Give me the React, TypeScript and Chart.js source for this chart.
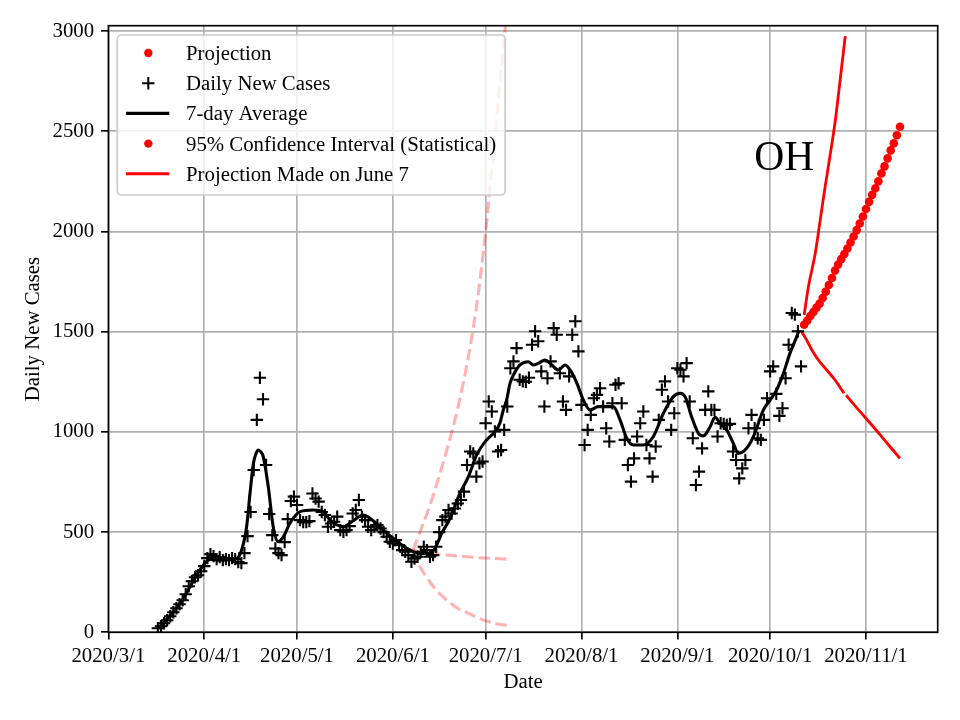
import React, { useEffect, useRef } from "react";
import { Chart, registerables } from "chart.js";

Chart.register(...registerables);

const FONT_FAMILY = "'Liberation Serif', 'Times New Roman', 'DejaVu Serif', serif";
const FONT_SIZE = 20.8;

// x axis: days since 2020-03-01
const X_MIN = 0;
const X_MAX = 268.2;
const Y_MIN = 0;
const Y_MAX = 3027;

const xTickDays = [0, 31, 61, 92, 122, 153, 184, 214, 245];
const xTickLabels = ["2020/3/1", "2020/4/1", "2020/5/1", "2020/6/1", "2020/7/1", "2020/8/1", "2020/9/1", "2020/10/1", "2020/11/1"];
const yTicks = [0, 500, 1000, 1500, 2000, 2500, 3000];
const yTickLabels = ["0", "500", "1000", "1500", "2000", "2500", "3000"];

// Daily new cases, one value per day starting at day 16 (2020-03-17)
const dailyStartDay = 16;
const dailyCases = [
  20, 30, 45, 60, 80, 100, 120, 140, 160, 190, 230, 255, 275, 285, 305, 330,
  370, 390, 380, 365, 375, 360, 365, 360, 370, 365, 350, 345, 395, 480, 600, 810,
  1060, 1270, 1163, 835, 590, 485, 418, 395, 385, 450, 565, 655, 677, 635, 560, 550,
  550, 555, 693, 668, 652, 600, 585, 527, 543, 552, 577, 510, 502, 510, 530, 593,
  610, 660, 577, 560, 527, 510, 527, 535, 518, 500, 477, 452, 443, 460, 435, 410,
  402, 385, 352, 368, 377, 400, 427, 410, 377, 385, 427, 500, 560, 577, 610, 593,
  618, 643, 660, 702, 835, 902, 893, 777, 843, 852, 1043, 1152, 1102, 1002, 902, 910,
  1010, 1127, 1318, 1352, 1418, 1260, 1252, 1250, 1270, 1435, 1502, 1452, 1302, 1127, 1268, 1352,
  1518, 1485, 1293, 1152, 1110, 1277, 1485, 1552, 1402, 1135, 935, 1010, 1085, 1168, 1185, 1218,
  1127, 1018, 952, 1143, 1235, 1243, 1143, 960, 835, 752, 868, 977, 1043, 1102, 935, 868,
  777, 927, 1060, 1210, 1252, 1152, 1010, 1093, 1318, 1310, 1277, 1343, 1152, 968, 735, 802,
  918, 1110, 1202, 1110, 1110, 977, 1043, 1040, 1035, 1040, 902, 860, 768, 818, 860, 1018,
  1085, 1018, 968, 960, 1060, 1168, 1302, 1327, 1190, 1080, 1118, 1268, 1435, 1593, 1585, 1502,
  1327,
];

// 7-day average
const avgDays = [
  16.1, 20, 23.2, 26.5, 29.6, 32.9, 36.1, 39, 41.5, 43.1, 44.7, 45.8, 46.9, 47.8, 48.5, 49.3,
  50.1, 51.7, 53.3, 54.9, 56.6, 58.7, 62, 66.3, 69.5, 71.7, 76, 79, 82.4, 84.6, 88.9, 92.1,
  96.5, 99.7, 102, 104, 105.6, 107.8, 110.5, 113.7, 116.4, 119.1, 122.3, 125, 126.6, 127.7, 128.8, 129.9,
  131, 133.1, 135.8, 137.4, 139, 141.2, 143.4, 145.5, 147.7, 149.3, 151.5, 153.6, 155.8, 158.4, 161.2, 163.3,
  165.5, 167.6, 169.8, 173, 176.2, 179.5, 182.7, 184.9, 186.5, 188.6, 190.8, 192.4, 194.6, 196.2, 197.8, 200,
  202.1, 203.7, 206.4, 208.6, 211.8, 214, 216.1, 218.3, 220.4, 222.6, 223.4,
];
const avgValues = [
  20, 85, 145, 230, 311, 364, 361, 363, 369, 411, 527, 694, 843, 895, 910, 900,
  876, 727, 527, 452, 477, 544, 602, 610, 602, 560, 527, 555, 585, 569, 510, 469,
  419, 397, 393, 394, 419, 494, 569, 694, 776, 885, 960, 1001, 1043, 1109, 1160, 1243,
  1284, 1334, 1350, 1334, 1342, 1359, 1334, 1309, 1334, 1309, 1243, 1159, 1109, 1126, 1126, 1126,
  1059, 970, 935, 935, 976, 1093, 1176, 1193, 1176, 1076, 993, 980, 1026, 1073, 1043, 1009,
  943, 893, 918, 976, 1109, 1159, 1209, 1292, 1392, 1475, 1508,
];

// Projection (red dots), one per day starting at day 225
const projStartDay = 225;
const projValues = [
  1535, 1555, 1578, 1598, 1620, 1640, 1668, 1700, 1733, 1768, 1805, 1835, 1862, 1888, 1915, 1945,
  1975, 2007, 2040, 2075, 2112, 2148, 2183, 2215, 2250, 2290, 2325, 2365, 2405, 2440, 2480, 2523,
];

// 95% confidence interval bounds
const ciUpperDays = [225, 226.4, 228.6, 230.2, 231.8, 233.5, 235.1, 236.4, 238.3];
const ciUpperValues = [1583, 1725, 1891, 2057, 2224, 2390, 2556, 2723, 2975];
const ciLowerDays = [224.2, 225.8, 227.5, 229.6, 232.3, 235, 237.2, 237.9, 238.2, 238.6, 239.9, 243.1, 246.4, 249.6, 252.8, 256];
const ciLowerValues = [1500, 1459, 1409, 1359, 1309, 1259, 1209, 1193, null, 1183, 1159, 1101, 1043, 985, 926, 868];

// Projection made on June 7 (light dashed)
const juneUpperDays = [98.5, 101, 104, 107, 110, 113, 116, 119, 122, 125, 128, 130];
const juneUpperValues = [410, 510, 635, 780, 940, 1120, 1340, 1620, 2000, 2480, 2960, 3300];
const juneMidDays = [98.5, 101, 105, 110, 115, 120, 125, 129.2];
const juneMidValues = [410, 400, 392, 385, 378, 372, 368, 365];
const juneLowDays = [98.5, 100, 102, 104, 106, 108, 110, 113, 116, 119, 122, 125, 129.5];
const juneLowValues = [410, 350, 295, 250, 212, 180, 153, 120, 98, 75, 58, 45, 32];

const STATE_LABEL = "OH";
const STATE_LABEL_DAY = 218.6;
const STATE_LABEL_VALUE = 2360;

const legendItems = [
  { label: "Projection", kind: "dot", color: "#ff0000" },
  { label: "Daily New Cases", kind: "plus", color: "#000000" },
  { label: "7-day Average", kind: "line", color: "#000000" },
  { label: "95% Confidence Interval (Statistical)", kind: "dot", color: "#ff0000" },
  { label: "Projection Made on June 7", kind: "line", color: "#ff0000" },
];

const pts = (xs: number[], ys: (number | null)[]) => xs.map((x, i) => ({ x, y: ys[i] }));

const mplPlugin = {
  id: "mplDecor",
  afterDraw(chart: any) {
    const { ctx, chartArea: a, scales } = chart;
    ctx.save();
    // state label
    ctx.fillStyle = "#000";
    ctx.font = `41.6px ${FONT_FAMILY}`;
    ctx.textAlign = "center";
    ctx.textBaseline = "middle";
    ctx.fillText(STATE_LABEL, scales.x.getPixelForValue(STATE_LABEL_DAY), scales.y.getPixelForValue(STATE_LABEL_VALUE));

    // spines
    ctx.strokeStyle = "#000";
    ctx.lineWidth = 1.67;
    ctx.strokeRect(a.left, a.top, a.right - a.left, a.bottom - a.top);

    // legend
    ctx.font = `${FONT_SIZE}px ${FONT_FAMILY}`;
    const textX = a.left + 77.6;
    const maxW = Math.max(...legendItems.map((it) => ctx.measureText(it.label).width));
    const bx = a.left + 8.9;
    const by = a.top + 9.3;
    const bw = textX + maxW + 9 - bx;
    const bh = 160;
    const r = 4;
    ctx.beginPath();
    ctx.moveTo(bx + r, by);
    ctx.lineTo(bx + bw - r, by);
    ctx.arcTo(bx + bw, by, bx + bw, by + r, r);
    ctx.lineTo(bx + bw, by + bh - r);
    ctx.arcTo(bx + bw, by + bh, bx + bw - r, by + bh, r);
    ctx.lineTo(bx + r, by + bh);
    ctx.arcTo(bx, by + bh, bx, by + bh - r, r);
    ctx.lineTo(bx, by + r);
    ctx.arcTo(bx, by, bx + r, by, r);
    ctx.closePath();
    ctx.fillStyle = "rgba(255,255,255,0.8)";
    ctx.fill();
    ctx.strokeStyle = "#cccccc";
    ctx.lineWidth = 1.67;
    ctx.stroke();

    ctx.textAlign = "left";
    ctx.textBaseline = "alphabetic";
    legendItems.forEach((it, i) => {
      const base = a.top + 34.3 + i * 30.2;
      const hy = base - 7;
      const hx = a.left + 39.9;
      if (it.kind === "dot") {
        ctx.fillStyle = it.color;
        ctx.beginPath();
        ctx.arc(hx, hy, 4.2, 0, Math.PI * 2);
        ctx.fill();
      } else if (it.kind === "plus") {
        ctx.strokeStyle = it.color;
        ctx.lineWidth = 2.1;
        ctx.beginPath();
        ctx.moveTo(hx - 6.2, hy);
        ctx.lineTo(hx + 6.2, hy);
        ctx.moveTo(hx, hy - 6.2);
        ctx.lineTo(hx, hy + 6.2);
        ctx.stroke();
      } else {
        ctx.strokeStyle = it.color;
        ctx.lineWidth = 3.1;
        ctx.beginPath();
        ctx.moveTo(a.left + 17.6, hy);
        ctx.lineTo(a.left + 60.9, hy);
        ctx.stroke();
      }
      ctx.fillStyle = "#000";
      ctx.fillText(it.label, textX, base);
    });
    ctx.restore();
  },
};

export default function App() {
  const canvasRef = useRef<HTMLCanvasElement | null>(null);

  useEffect(() => {
    document.body.style.margin = "0";
    const canvas = canvasRef.current;
    if (!canvas) return;

    const font = { family: FONT_FAMILY, size: FONT_SIZE, lineHeight: 1.2 };
    const dailyPoints = dailyCases.map((v, i) => ({ x: dailyStartDay + i, y: v }));
    const projPoints = projValues.map((v, i) => ({ x: projStartDay + i, y: v }));
    const pink = "rgba(255,0,0,0.3)";

    const chart = new Chart(canvas, {
      type: "scatter",
      data: {
        datasets: [
          {
            label: "7-day Average",
            data: pts(avgDays, avgValues),
            showLine: true,
            borderColor: "#000",
            borderWidth: 3.1,
            pointRadius: 0,
            cubicInterpolationMode: "monotone",
            clip: 0,
          },
          {
            label: "Daily New Cases",
            data: dailyPoints,
            showLine: false,
            pointStyle: "cross",
            pointRadius: 6.2,
            borderColor: "#000",
            borderWidth: 2.1,
            clip: 0,
          },
          {
            label: "Projection",
            data: projPoints,
            showLine: false,
            pointStyle: "circle",
            pointRadius: 4.3,
            backgroundColor: "#ff0000",
            borderWidth: 0,
            clip: 0,
          },
          {
            label: "CI upper",
            data: pts(ciUpperDays, ciUpperValues),
            showLine: true,
            borderColor: "#ff0000",
            borderWidth: 2.8,
            pointRadius: 0,
            cubicInterpolationMode: "monotone",
            clip: 0,
          },
          {
            label: "CI lower",
            data: pts(ciLowerDays, ciLowerValues),
            showLine: true,
            spanGaps: false,
            borderColor: "#ff0000",
            borderWidth: 2.8,
            pointRadius: 0,
            cubicInterpolationMode: "monotone",
            clip: 0,
          },
          {
            label: "June upper",
            data: pts(juneUpperDays, juneUpperValues),
            showLine: true,
            borderColor: pink,
            borderWidth: 3.1,
            borderDash: [11.5, 5],
            pointRadius: 0,
            cubicInterpolationMode: "monotone",
            clip: 0,
          },
          {
            label: "June mid",
            data: pts(juneMidDays, juneMidValues),
            showLine: true,
            borderColor: pink,
            borderWidth: 3.1,
            borderDash: [11.5, 5],
            pointRadius: 0,
            cubicInterpolationMode: "monotone",
            clip: 0,
          },
          {
            label: "June low",
            data: pts(juneLowDays, juneLowValues),
            showLine: true,
            borderColor: pink,
            borderWidth: 3.1,
            borderDash: [11.5, 5],
            pointRadius: 0,
            cubicInterpolationMode: "monotone",
            clip: 0,
          },
        ],
      },
      options: {
        animation: false,
        responsive: true,
        maintainAspectRatio: false,
        events: [],
        layout: { padding: { top: 25.7, right: 22.3, left: 0, bottom: 0 } },
        plugins: { legend: { display: false }, tooltip: { enabled: false } },
        scales: {
          x: {
            type: "linear",
            bounds: "data",
            min: X_MIN,
            max: X_MAX,
            afterBuildTicks: (s: any) => {
              s.ticks = xTickDays.map((v) => ({ value: v }));
            },
            afterFit: (s: any) => {
              s.height = 87.7;
            },
            ticks: {
              callback: (_v: any, i: number) => xTickLabels[i],
              font,
              color: "#000",
              padding: 4,
              maxRotation: 0,
              autoSkip: false,
            },
            grid: { color: "#b0b0b0", lineWidth: 1.67, tickColor: "#000", tickLength: 7.3, tickWidth: 1.67, drawTicks: true },
            border: { display: false },
            title: { display: true, text: "Date", font, color: "#000", padding: { top: 0, bottom: 24.5 } },
          },
          y: {
            type: "linear",
            bounds: "data",
            min: Y_MIN,
            max: Y_MAX,
            afterBuildTicks: (s: any) => {
              s.ticks = yTicks.map((v) => ({ value: v }));
            },
            afterFit: (s: any) => {
              s.width = 108.4;
            },
            ticks: {
              callback: (_v: any, i: number) => yTickLabels[i],
              font,
              color: "#000",
              padding: 7,
            },
            grid: { color: "#b0b0b0", lineWidth: 1.67, tickColor: "#000", tickLength: 7.3, tickWidth: 1.67, drawTicks: true },
            border: { display: false },
            title: { display: true, text: "Daily New Cases", font, color: "#000", padding: { top: 21, bottom: 0 } },
          },
        },
      },
      plugins: [mplPlugin],
    } as any);

    return () => chart.destroy();
  }, []);

  return (
    <div style={{ position: "relative", width: 960, height: 720 }}>
      <canvas ref={canvasRef} width={960} height={720} />
    </div>
  );
}
